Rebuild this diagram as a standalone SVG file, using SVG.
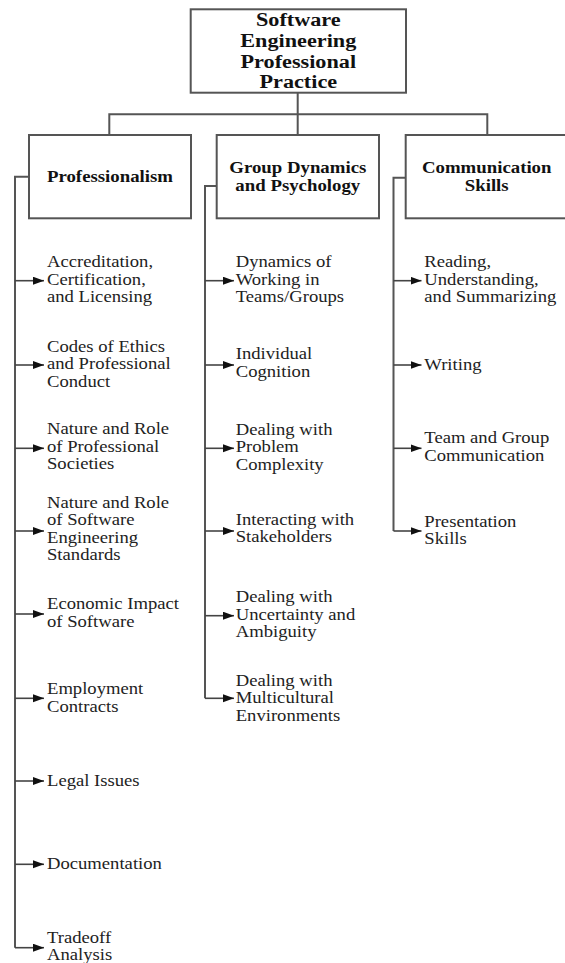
<svg xmlns="http://www.w3.org/2000/svg" width="565" height="963" viewBox="0 0 565 963">
<defs>
<style>
.box{fill:#fff;stroke:#555;stroke-width:2}
.ln{fill:none;stroke:#555;stroke-width:2}
.arr{fill:none;stroke:#444;stroke-width:1.6;marker-end:url(#ah)}
.title{font-family:"Liberation Serif","Times New Roman",serif;font-weight:bold;font-size:19.5px;fill:#111}
.head{font-family:"Liberation Serif","Times New Roman",serif;font-weight:bold;font-size:16.5px;fill:#111}
.item{font-family:"Liberation Serif","Times New Roman",serif;font-size:16.5px;fill:#222}
</style>
<marker id="ah" markerWidth="12" markerHeight="9" refX="11" refY="4" orient="auto" markerUnits="userSpaceOnUse">
<path d="M0,0 L11,4 L0,8 z" fill="#111"/>
</marker>
</defs>
<rect width="565" height="963" fill="#fff"/>

<g id="connectors">
<path class="ln" d="M297.7,92.7 V135 M109.3,135 V114.3 H487.3 V135"/>
<path class="ln" d="M29,176.7 H15 V947.7"/>
<path class="ln" d="M216.7,186 H205 V698.3"/>
<path class="ln" d="M405.7,177.7 H393.5 V531"/>
<path class="arr" d="M15,280.7 H44"/>
<path class="arr" d="M15,365 H44"/>
<path class="arr" d="M15,448.3 H44"/>
<path class="arr" d="M15,531 H44"/>
<path class="arr" d="M15,614 H44"/>
<path class="arr" d="M15,698.3 H44"/>
<path class="arr" d="M15,781 H44"/>
<path class="arr" d="M15,864.3 H44"/>
<path class="arr" d="M15,947.7 H44"/>
<path class="arr" d="M205,280.7 H234"/>
<path class="arr" d="M205,365 H234"/>
<path class="arr" d="M205,448.3 H234"/>
<path class="arr" d="M205,531 H234"/>
<path class="arr" d="M205,615.7 H234"/>
<path class="arr" d="M205,698.3 H234"/>
<path class="arr" d="M393.5,280.7 H421.5"/>
<path class="arr" d="M393.5,365 H421.5"/>
<path class="arr" d="M393.5,448.3 H421.5"/>
<path class="arr" d="M393.5,531 H421.5"/>
</g>

<g id="root">
<rect class="box" x="190.7" y="9.3" width="215.3" height="83.4"/>
<g transform="translate(298.3 0) scale(1.14 1)">
<text class="title" text-anchor="middle"><tspan x="0" y="26">Software</tspan><tspan x="0" y="46.8">Engineering</tspan><tspan x="0" y="67.6">Professional</tspan><tspan x="0" y="88.4">Practice</tspan></text>
</g>
</g>

<g id="professionalism">
<rect class="box" x="29" y="135" width="162" height="83.3"/>
<g transform="translate(110 0) scale(1.14 1)">
<text class="head" text-anchor="middle" x="0" y="181.7">Professionalism</text>
</g>
</g>

<g id="group-dynamics">
<rect class="box" x="216.7" y="135" width="162.3" height="83.3"/>
<g transform="translate(297.8 0) scale(1.14 1)">
<text class="head" text-anchor="middle"><tspan x="0" y="173.3">Group Dynamics</tspan><tspan x="0" y="191">and Psychology</tspan></text>
</g>
</g>

<g id="communication">
<rect class="box" x="405.7" y="135" width="162" height="83.3"/>
<g transform="translate(486.7 0) scale(1.14 1)">
<text class="head" text-anchor="middle"><tspan x="0" y="172.7">Communication</tspan><tspan x="0" y="190.7">Skills</tspan></text>
</g>
</g>

<g id="accreditation" transform="translate(47 0) scale(1.13 1)">
<text class="item"><tspan x="0" y="267">Accreditation,</tspan><tspan x="0" y="285">Certification,</tspan><tspan x="0" y="302.5">and Licensing</tspan></text>
</g>
<g id="codes-of-ethics" transform="translate(47 0) scale(1.13 1)">
<text class="item"><tspan x="0" y="352">Codes of Ethics</tspan><tspan x="0" y="369.5">and Professional</tspan><tspan x="0" y="387">Conduct</tspan></text>
</g>
<g id="professional-societies" transform="translate(47 0) scale(1.13 1)">
<text class="item"><tspan x="0" y="434.5">Nature and Role</tspan><tspan x="0" y="452">of Professional</tspan><tspan x="0" y="469.5">Societies</tspan></text>
</g>
<g id="se-standards" transform="translate(47 0) scale(1.13 1)">
<text class="item"><tspan x="0" y="508">Nature and Role</tspan><tspan x="0" y="525.5">of Software</tspan><tspan x="0" y="543">Engineering</tspan><tspan x="0" y="560.5">Standards</tspan></text>
</g>
<g id="economic-impact" transform="translate(47 0) scale(1.13 1)">
<text class="item"><tspan x="0" y="609.5">Economic Impact</tspan><tspan x="0" y="627">of Software</tspan></text>
</g>
<g id="employment-contracts" transform="translate(47 0) scale(1.13 1)">
<text class="item"><tspan x="0" y="694.5">Employment</tspan><tspan x="0" y="712">Contracts</tspan></text>
</g>
<g id="legal-issues" transform="translate(47 0) scale(1.13 1)">
<text class="item" x="0" y="786">Legal Issues</text>
</g>
<g id="documentation" transform="translate(47 0) scale(1.13 1)">
<text class="item" x="0" y="869.5">Documentation</text>
</g>
<g id="tradeoff-analysis" transform="translate(47 0) scale(1.13 1)">
<text class="item"><tspan x="0" y="943.5">Tradeoff</tspan><tspan x="0" y="960.5">Analysis</tspan></text>
</g>

<g id="dynamics-teams" transform="translate(235.7 0) scale(1.13 1)">
<text class="item"><tspan x="0" y="267.5">Dynamics of</tspan><tspan x="0" y="285">Working in</tspan><tspan x="0" y="302.5">Teams/Groups</tspan></text>
</g>
<g id="individual-cognition" transform="translate(235.7 0) scale(1.13 1)">
<text class="item"><tspan x="0" y="359.5">Individual</tspan><tspan x="0" y="377">Cognition</tspan></text>
</g>
<g id="problem-complexity" transform="translate(235.7 0) scale(1.13 1)">
<text class="item"><tspan x="0" y="435">Dealing with</tspan><tspan x="0" y="452.5">Problem</tspan><tspan x="0" y="470">Complexity</tspan></text>
</g>
<g id="stakeholders" transform="translate(235.7 0) scale(1.13 1)">
<text class="item"><tspan x="0" y="525">Interacting with</tspan><tspan x="0" y="542.5">Stakeholders</tspan></text>
</g>
<g id="uncertainty" transform="translate(235.7 0) scale(1.13 1)">
<text class="item"><tspan x="0" y="602">Dealing with</tspan><tspan x="0" y="620">Uncertainty and</tspan><tspan x="0" y="637">Ambiguity</tspan></text>
</g>
<g id="multicultural" transform="translate(235.7 0) scale(1.13 1)">
<text class="item"><tspan x="0" y="686">Dealing with</tspan><tspan x="0" y="703.5">Multicultural</tspan><tspan x="0" y="721">Environments</tspan></text>
</g>

<g id="reading" transform="translate(424.3 0) scale(1.13 1)">
<text class="item"><tspan x="0" y="267.5">Reading,</tspan><tspan x="0" y="285">Understanding,</tspan><tspan x="0" y="302.5">and Summarizing</tspan></text>
</g>
<g id="writing" transform="translate(424.3 0) scale(1.13 1)">
<text class="item" x="0" y="370">Writing</text>
</g>
<g id="team-communication" transform="translate(424.3 0) scale(1.13 1)">
<text class="item"><tspan x="0" y="443.5">Team and Group</tspan><tspan x="0" y="461">Communication</tspan></text>
</g>
<g id="presentation" transform="translate(424.3 0) scale(1.13 1)">
<text class="item"><tspan x="0" y="527">Presentation</tspan><tspan x="0" y="544.5">Skills</tspan></text>
</g>
</svg>
